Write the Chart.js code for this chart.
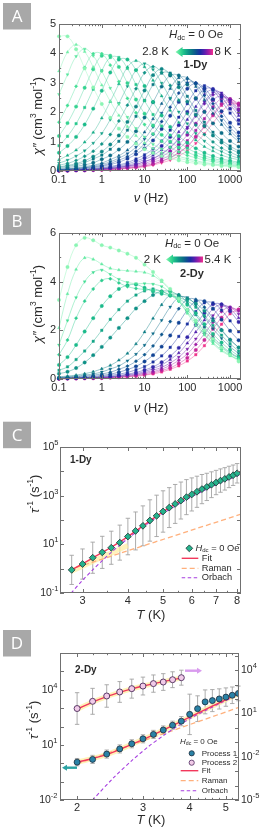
<!DOCTYPE html>
<html lang="en">
<head>
<meta charset="UTF-8">
<title>AC susceptibility and relaxation rates</title>
<script src="https://cdn.jsdelivr.net/npm/chart.js@4.4.0/dist/chart.umd.min.js"></script>
<style>
  html, body { margin: 0; padding: 0; background: #fff; }
  #wrap { position: relative; width: 264px; height: 838px; overflow: hidden; }
  canvas { position: absolute; left: 0; }
</style>
</head>
<body>
<div id="wrap">
  <canvas id="chartA" width="264" height="210" style="top:0px"></canvas>
  <canvas id="chartB" width="264" height="210" style="top:205px"></canvas>
  <canvas id="chartC" width="264" height="210" style="top:415px"></canvas>
  <canvas id="chartD" width="264" height="218" style="top:620px"></canvas>
</div>
<script>
// ---------- data ----------
// panels A and B: chi'' (cm3/mol) at each AC frequency, one row per temperature
const freqHz = [0.1, 0.158, 0.251, 0.398, 0.631, 1, 1.58, 2.51, 3.98, 6.31, 10, 15.8, 25.1, 39.8, 63.1, 100, 158, 251, 398, 631, 1000, 1585];

const tempA = [2.8, 3.0, 3.2, 3.4, 3.6, 3.8, 4.0, 4.2, 4.4, 4.6, 4.8, 5.0, 5.2, 5.4, 5.6, 5.8, 6.0, 6.2, 6.4, 6.6, 6.8, 7.0, 7.2, 7.4, 7.6, 7.8, 8.0];
const chiA = [
  [4.58,4.58,4.14,3.49,2.84,2.28,1.81,1.44,1.16,0.93,0.74,0.61,0.51,0.43,0.36,0.30,0.26,0.22,0.20,0.17,0.15,0.13],
  [3.40,4.04,4.30,4.06,3.53,2.92,2.37,1.89,1.51,1.20,0.95,0.77,0.62,0.52,0.43,0.37,0.30,0.26,0.22,0.19,0.17,0.15],
  [2.61,3.28,3.90,4.15,3.92,3.40,2.82,2.28,1.83,1.45,1.16,0.91,0.75,0.60,0.50,0.42,0.35,0.29,0.25,0.21,0.19,0.17],
  [1.66,2.23,2.88,3.52,3.99,3.99,3.60,3.04,2.47,1.98,1.58,1.26,1.01,0.81,0.65,0.53,0.45,0.37,0.32,0.26,0.22,0.19],
  [1.19,1.63,2.19,2.83,3.46,3.92,3.92,3.54,2.99,2.43,1.95,1.55,1.23,1.00,0.80,0.64,0.53,0.44,0.37,0.31,0.26,0.22],
  [0.86,1.18,1.61,2.16,2.78,3.41,3.86,3.86,3.49,2.94,2.39,1.92,1.53,1.22,0.98,0.78,0.63,0.52,0.43,0.36,0.31,0.25],
  [0.62,0.85,1.16,1.58,2.12,2.73,3.35,3.79,3.79,3.43,2.89,2.35,1.89,1.50,1.19,0.96,0.77,0.62,0.51,0.42,0.35,0.30],
  [0.38,0.53,0.71,0.98,1.31,1.80,2.36,2.96,3.53,3.75,3.54,3.08,2.55,2.06,1.65,1.31,1.05,0.83,0.68,0.54,0.45,0.38],
  [0.27,0.37,0.51,0.69,0.95,1.28,1.75,2.30,2.88,3.43,3.65,3.45,2.99,2.48,2.01,1.61,1.28,1.02,0.80,0.66,0.53,0.44],
  [0.20,0.26,0.36,0.50,0.67,0.92,1.24,1.70,2.24,2.80,3.34,3.55,3.35,2.91,2.41,1.95,1.56,1.24,0.99,0.78,0.64,0.51],
  [0.14,0.19,0.25,0.35,0.49,0.66,0.90,1.21,1.67,2.19,2.74,3.26,3.47,3.28,2.85,2.36,1.91,1.53,1.21,0.97,0.76,0.62],
  [0.12,0.16,0.21,0.29,0.41,0.54,0.74,1.01,1.39,1.86,2.40,2.94,3.33,3.33,3.01,2.54,2.06,1.66,1.32,1.05,0.85,0.68],
  [0.09,0.12,0.16,0.21,0.28,0.40,0.53,0.73,0.99,1.35,1.82,2.34,2.87,3.25,3.25,2.94,2.48,2.01,1.62,1.29,1.02,0.83],
  [0.06,0.08,0.11,0.15,0.20,0.27,0.39,0.52,0.71,0.97,1.32,1.77,2.29,2.80,3.17,3.17,2.87,2.42,1.96,1.58,1.26,1.00],
  [0.05,0.07,0.09,0.12,0.17,0.23,0.31,0.44,0.59,0.81,1.09,1.50,1.97,2.46,2.93,3.12,2.95,2.56,2.12,1.72,1.37,1.09],
  [0.05,0.06,0.08,0.11,0.14,0.19,0.26,0.37,0.49,0.67,0.92,1.25,1.68,2.17,2.65,3.00,3.00,2.71,2.29,1.86,1.49,1.19],
  [0.04,0.05,0.07,0.09,0.12,0.16,0.22,0.30,0.42,0.57,0.77,1.04,1.43,1.88,2.35,2.80,2.98,2.82,2.44,2.03,1.64,1.31],
  [0.03,0.04,0.05,0.06,0.09,0.12,0.16,0.21,0.29,0.41,0.55,0.75,1.02,1.39,1.83,2.29,2.73,2.90,2.74,2.38,1.97,1.60],
  [0.03,0.03,0.04,0.05,0.07,0.10,0.13,0.18,0.24,0.34,0.45,0.62,0.85,1.16,1.56,2.01,2.46,2.79,2.79,2.52,2.12,1.73],
  [0.02,0.03,0.04,0.05,0.06,0.08,0.11,0.15,0.20,0.28,0.39,0.53,0.72,0.97,1.33,1.75,2.19,2.60,2.77,2.62,2.27,1.88],
  [0.02,0.02,0.03,0.04,0.05,0.07,0.09,0.13,0.17,0.23,0.32,0.43,0.59,0.81,1.11,1.49,1.92,2.35,2.66,2.66,2.40,2.03],
  [0.02,0.02,0.03,0.04,0.05,0.07,0.09,0.12,0.17,0.22,0.32,0.42,0.58,0.79,1.08,1.45,1.87,2.29,2.59,2.59,2.34,1.97],
  [0.02,0.02,0.03,0.03,0.04,0.06,0.08,0.10,0.14,0.19,0.26,0.36,0.49,0.67,0.90,1.23,1.61,2.02,2.41,2.56,2.42,2.10],
  [0.01,0.02,0.02,0.03,0.04,0.05,0.07,0.09,0.12,0.16,0.21,0.30,0.40,0.55,0.75,1.03,1.38,1.78,2.18,2.46,2.46,2.23],
  [0.01,0.01,0.02,0.02,0.03,0.04,0.05,0.07,0.10,0.13,0.18,0.24,0.34,0.46,0.63,0.85,1.17,1.53,1.92,2.28,2.43,2.30],
  [0.01,0.01,0.02,0.02,0.03,0.04,0.05,0.07,0.10,0.13,0.17,0.23,0.33,0.45,0.62,0.83,1.14,1.49,1.87,2.22,2.37,2.24],
  [0.01,0.01,0.02,0.02,0.03,0.03,0.04,0.06,0.08,0.11,0.14,0.20,0.28,0.37,0.51,0.69,0.94,1.27,1.63,2.00,2.27,2.27]
];

const tempB = [2.0, 2.2, 2.4, 2.6, 2.8, 3.0, 3.2, 3.4, 3.6, 3.8, 4.0, 4.2, 4.4, 4.6, 4.8, 5.0, 5.2, 5.4];
const chiB = [
  [3.25,4.60,5.50,5.80,5.70,5.50,5.40,5.28,5.15,4.98,4.70,4.40,4.05,3.70,3.30,2.85,2.40,2.00,1.65,1.30,1.00,0.72],
  [2.10,3.50,4.50,4.98,4.92,4.72,4.55,4.48,4.45,4.42,4.38,4.25,4.00,3.65,3.20,2.70,2.20,1.80,1.45,1.15,0.95,0.78],
  [1.40,2.40,3.35,4.00,4.38,4.48,4.30,4.10,3.97,3.92,3.92,3.90,3.80,3.55,3.20,2.75,2.30,1.85,1.50,1.20,0.98,0.80],
  [1.00,1.60,2.50,3.20,3.70,4.05,4.12,3.95,3.80,3.72,3.68,3.65,3.60,3.45,3.20,2.85,2.40,1.95,1.60,1.30,1.05,0.85],
  [0.58,0.90,1.40,1.95,2.50,3.00,3.40,3.70,3.85,3.88,3.75,3.60,3.50,3.42,3.30,3.05,2.70,2.25,1.85,1.50,1.20,0.95],
  [0.36,0.50,0.80,1.15,1.55,2.00,2.45,2.85,3.20,3.45,3.62,3.70,3.60,3.45,3.35,3.20,2.95,2.60,2.20,1.80,1.45,1.15],
  [0.22,0.30,0.45,0.68,0.98,1.32,1.70,2.10,2.50,2.90,3.20,3.45,3.60,3.60,3.45,3.30,3.10,2.80,2.40,2.00,1.60,1.30],
  [0.09,0.12,0.16,0.22,0.30,0.42,0.56,0.77,1.05,1.44,1.93,2.49,3.05,3.45,3.45,3.12,2.63,2.14,1.72,1.37,1.09,0.88],
  [0.06,0.09,0.12,0.16,0.21,0.29,0.41,0.54,0.75,1.02,1.39,1.87,2.41,2.96,3.35,3.35,3.03,2.55,2.07,1.67,1.33,1.05],
  [0.05,0.06,0.09,0.12,0.16,0.21,0.28,0.40,0.53,0.73,1.00,1.36,1.83,2.36,2.89,3.27,3.27,2.95,2.49,2.03,1.63,1.29],
  [0.04,0.05,0.06,0.08,0.11,0.15,0.20,0.28,0.39,0.52,0.72,0.98,1.33,1.79,2.31,2.83,3.20,3.20,2.89,2.44,1.98,1.59],
  [0.03,0.04,0.05,0.06,0.08,0.11,0.15,0.20,0.27,0.38,0.51,0.70,0.95,1.30,1.75,2.26,2.77,3.13,3.13,2.83,2.39,1.94],
  [0.02,0.03,0.04,0.05,0.06,0.08,0.11,0.15,0.20,0.27,0.37,0.50,0.69,0.94,1.28,1.72,2.22,2.71,3.07,3.07,2.78,2.34],
  [0.02,0.02,0.03,0.04,0.05,0.07,0.09,0.12,0.17,0.22,0.31,0.43,0.58,0.80,1.07,1.47,1.93,2.42,2.88,3.06,2.89,2.51],
  [0.02,0.02,0.03,0.04,0.05,0.06,0.08,0.11,0.14,0.19,0.26,0.36,0.48,0.66,0.90,1.23,1.65,2.13,2.61,2.96,2.96,2.67],
  [0.01,0.02,0.02,0.03,0.04,0.05,0.06,0.09,0.12,0.16,0.22,0.30,0.41,0.56,0.77,1.03,1.42,1.86,2.33,2.77,2.95,2.79],
  [0.01,0.02,0.02,0.03,0.03,0.04,0.06,0.08,0.10,0.14,0.18,0.25,0.35,0.46,0.64,0.87,1.19,1.60,2.06,2.52,2.86,2.86],
  [0.01,0.01,0.02,0.02,0.03,0.04,0.05,0.06,0.09,0.11,0.16,0.21,0.29,0.40,0.54,0.74,1.00,1.37,1.80,2.25,2.68,2.85]
];

// panel C: 1-Dy relaxation rate, log10(tau^-1 / s^-1)
const tempC = [2.8, 3.0, 3.2, 3.4, 3.6, 3.8, 4.0, 4.2, 4.4, 4.6, 4.8, 5.0, 5.2, 5.4, 5.6, 5.8, 6.0, 6.2, 6.4, 6.6, 6.8, 7.0, 7.2, 7.4, 7.6, 7.8, 8.0];
const logRateC = [-0.05, 0.19, 0.45, 0.67, 0.86, 1.07, 1.32, 1.55, 1.76, 1.98, 2.17, 2.35, 2.51, 2.66, 2.80, 2.94, 3.05, 3.16, 3.27, 3.36, 3.45, 3.54, 3.62, 3.69, 3.77, 3.84, 3.92];
const logErrC = [0.60, 0.62, 0.64, 0.66, 0.68, 0.72, 0.75, 0.78, 0.82, 0.85, 0.85, 0.85, 0.82, 0.80, 0.76, 0.72, 0.68, 0.64, 0.60, 0.56, 0.53, 0.50, 0.48, 0.46, 0.44, 0.42, 0.40];
const fitCT = [2.78, 3.0, 3.2, 3.4, 3.6, 3.8, 4.0, 4.2, 4.4, 4.6, 4.8, 5.0, 5.4, 5.8, 6.2, 6.6, 7.0, 7.5, 8.05];
const fitCLog = [-0.07, 0.20, 0.44, 0.67, 0.88, 1.10, 1.32, 1.54, 1.76, 1.97, 2.16, 2.34, 2.66, 2.93, 3.16, 3.36, 3.54, 3.73, 3.94];
const ramanCT = [2.75, 8.2];
const ramanCLog = [-0.05, 2.24];
const orbachCT = [2.79, 3.0, 3.2, 3.4, 3.6, 3.8, 4.0, 4.4, 4.8, 5.2, 5.6, 6.0, 6.5, 7.0, 7.5, 8.0, 8.2];
const orbachCLog = [-1.0, -0.48, -0.05, 0.33, 0.67, 0.97, 1.24, 1.71, 2.10, 2.43, 2.71, 2.96, 3.22, 3.45, 3.64, 3.81, 3.88];
// faint band under the low-temperature part of the fit
const bandCT = [2.78, 3.0, 3.2, 3.4, 3.6, 3.8, 4.0];
const bandCLog = [-0.12, 0.1, 0.3, 0.48, 0.64, 0.8, 0.95];

// panel D: 2-Dy, process 1 (left axis) and process 2 (right axis)
const tempD1 = [2.0, 2.2, 2.4, 2.6, 2.8, 3.0, 3.2, 3.4, 3.6, 3.8, 4.0, 4.2, 4.4, 4.6, 4.8, 5.0, 5.2, 5.4];
const logRateD1 = [0.06, 0.21, 0.50, 0.78, 1.06, 1.33, 1.57, 1.81, 2.07, 2.29, 2.66, 2.97, 3.34, 3.41, 3.50, 3.60, 3.70, 3.80];
const logErrD1 = [0.20, 0.22, 0.22, 0.22, 0.22, 0.22, 0.22, 0.22, 0.22, 0.25, 1.10, 0.70, 0.65, 0.60, 0.55, 0.50, 0.45, 0.40];
const tempD2 = [2.0, 2.2, 2.4, 2.6, 2.8, 3.0, 3.2, 3.4, 3.6, 3.8];
const logRateD2 = [1.35, 1.85, 2.22, 2.50, 2.73, 2.91, 3.08, 3.19, 3.35, 3.49];
const logErrD2 = [1.10, 0.90, 0.78, 0.72, 0.66, 0.62, 0.60, 0.58, 0.55, 0.52];
const fitD1T = [2.0, 2.4, 2.8, 3.2, 3.6, 4.0, 4.4, 4.8, 5.42];
const fitD1Log = [0.05, 0.47, 1.03, 1.55, 2.05, 2.51, 2.92, 3.29, 3.80];
const fitD2T = [2.0, 2.2, 2.4, 2.6, 2.8, 3.0, 3.2, 3.4, 3.6, 3.8];
const fitD2Log = [1.30, 1.80, 2.18, 2.47, 2.71, 2.91, 3.08, 3.22, 3.35, 3.47];
const ramanDT = [2.0, 5.42];
const ramanDLog = [-0.03, 3.04];
const orbachDT = [2.2, 2.5, 2.8, 3.1, 3.4, 3.7, 4.0, 4.4, 4.8, 5.42];
const orbachDLog = [-2.0, -0.8, 0.14, 0.9, 1.5, 2.0, 2.42, 2.86, 3.24, 3.75];

// tick labels
const ticksAX = [0.1, 1, 10, 100, 1000];
const ticksAY = [0, 1, 2, 3, 4, 5];
const ticksBY = [0, 2, 4, 6];
const ticksCX = [3, 4, 5, 6, 7, 8];
const expCY = [-1, 1, 3, 5];
const ticksDX = [2, 3, 4, 5];
const expDY = [-2, 1, 4];
const expDY2 = [-5, -2, 1, 4];

// ---------- helpers ----------
const FONT = "'Liberation Sans', Arial, sans-serif";
const INK = '#2b2b2b';
const FRAME = '#707070';
const RAMP = ['#8af5b4', '#45e095', '#1cbf8a', '#0f9786', '#0c7385', '#0d4f91', '#1d2ba3', '#5a1fb0', '#a51ea5', '#f0328b'];
const MARKS = [['circle', 0], ['triangle', 0], ['triangle', 180], ['rectRot', 0], ['circle', 0], ['rect', 0]];

function hexRgb(h) { const n = parseInt(h.slice(1), 16); return [n >> 16 & 255, n >> 8 & 255, n & 255]; }
function ramp(f) {
  const s = f * (RAMP.length - 1);
  const i = Math.min(Math.floor(s), RAMP.length - 2);
  const u = s - i, a = hexRgb(RAMP[i]), b = hexRgb(RAMP[i + 1]);
  return a.map((v, j) => Math.round(v + (b[j] - v) * u));
}
const rgba = (c, a) => `rgba(${c[0]},${c[1]},${c[2]},${a})`;
const pts = (xs, logs) => xs.map((x, i) => ({ x: x, y: 10 ** logs[i] }));
const bars = (logs, errs) => logs.map((v, i) => [10 ** (v - errs[i]), 10 ** (v + errs[i])]);

function logMinor(lo, hi) {
  const out = [];
  for (let e = Math.floor(Math.log10(lo)); e <= Math.ceil(Math.log10(hi)); e++)
    for (let m = 2; m <= 9; m++) { const v = m * 10 ** e; if (v > lo && v < hi) out.push(v); }
  return out;
}
function steps(lo, hi, st) {
  const out = [];
  for (let v = lo; v <= hi + 1e-9; v += st) out.push(+v.toFixed(3));
  return out;
}

function rich(ctx, x, y, parts, align, color) {
  ctx.save();
  ctx.fillStyle = color || INK;
  ctx.textBaseline = 'middle';
  ctx.textAlign = 'left';
  const segs = parts.map(p => {
    const o = p[2] || {};
    const font = (o.italic ? 'italic ' : '') + (o.bold ? 'bold ' : '') + p[1] + 'px ' + FONT;
    ctx.font = font;
    return { t: p[0], font: font, w: ctx.measureText(p[0]).width, dy: o.dy || 0 };
  });
  const total = segs.reduce((s, g) => s + g.w, 0);
  let cx = align === 'center' ? x - total / 2 : align === 'right' ? x - total : x;
  segs.forEach(g => { ctx.font = g.font; ctx.fillText(g.t, cx, y + g.dy); cx += g.w; });
  ctx.restore();
}
function richV(ctx, x, y, parts) {
  ctx.save(); ctx.translate(x, y); ctx.rotate(-Math.PI / 2);
  rich(ctx, 0, 0, parts, 'center'); ctx.restore();
}
function pow10(ctx, x, y, e, align) {
  rich(ctx, x, y, [['10', 10.5], [String(e), 7.5, { dy: -4 }]], align);
}
function letterBox(ctx, ch, y) {
  ctx.save();
  ctx.fillStyle = '#a8a8a8';
  ctx.fillRect(3, y, 28, 26.5);
  ctx.fillStyle = '#fff';
  ctx.font = "17px 'Open Sans', sans-serif";
  ctx.textAlign = 'center'; ctx.textBaseline = 'middle';
  ctx.fillText(ch, 17, y + 14);
  ctx.restore();
}
function gradArrow(ctx, xHead, xEnd, y) {
  ctx.save();
  const g = ctx.createLinearGradient(xHead, 0, xEnd, 0);
  RAMP.forEach((c, i) => g.addColorStop(i / (RAMP.length - 1), c));
  ctx.fillStyle = g;
  ctx.beginPath();
  ctx.moveTo(xHead, y);
  ctx.lineTo(xHead + 7, y - 5);
  ctx.lineTo(xHead + 7, y - 3);
  ctx.lineTo(xEnd, y - 3);
  ctx.lineTo(xEnd, y + 3);
  ctx.lineTo(xHead + 7, y + 3);
  ctx.lineTo(xHead + 7, y + 5);
  ctx.closePath();
  ctx.fill();
  ctx.restore();
}
function smallArrow(ctx, xTail, xTip, y, color) {
  const dir = xTip > xTail ? 1 : -1;
  ctx.save();
  ctx.fillStyle = color;
  ctx.fillRect(Math.min(xTail, xTip - dir * 5), y - 1.2, Math.abs(xTip - dir * 5 - xTail), 2.4);
  ctx.beginPath();
  ctx.moveTo(xTip, y);
  ctx.lineTo(xTip - dir * 5, y - 3);
  ctx.lineTo(xTip - dir * 5, y + 3);
  ctx.closePath();
  ctx.fill();
  ctx.restore();
}
function legendLine(ctx, x0, x1, y, color, dash, w) {
  ctx.save();
  ctx.strokeStyle = color; ctx.lineWidth = w; ctx.setLineDash(dash);
  ctx.beginPath(); ctx.moveTo(x0, y); ctx.lineTo(x1, y); ctx.stroke();
  ctx.restore();
}
const hdc = (size) => [['H', size, { italic: true }], ['dc', size * 0.65, { dy: size * 0.25 }], [' = 0 Oe', size]];

// box frame with inward ticks and hand-placed tick labels
function framePlugin(axes) {
  return {
    id: 'frame',
    afterDatasetsDraw(chart) {
      const ctx = chart.ctx, a = chart.chartArea;
      ctx.save();
      ctx.strokeStyle = FRAME; ctx.lineWidth = 1;
      ctx.strokeRect(a.left + 0.5, a.top + 0.5, a.right - a.left - 1, a.bottom - a.top - 1);
      axes.forEach(ax => {
        const sc = chart.scales[ax.id];
        const tick = (v, len) => {
          const p = Math.round(sc.getPixelForValue(v)) + 0.5;
          ctx.beginPath();
          ax.sides.forEach(s => {
            if (s === 'bottom') { ctx.moveTo(p, a.bottom); ctx.lineTo(p, a.bottom - len); }
            else if (s === 'top') { ctx.moveTo(p, a.top); ctx.lineTo(p, a.top + len); }
            else if (s === 'left') { ctx.moveTo(a.left, p); ctx.lineTo(a.left + len, p); }
            else { ctx.moveTo(a.right, p); ctx.lineTo(a.right - len, p); }
          });
          ctx.stroke();
        };
        ax.major.forEach(v => tick(v, 4));
        (ax.minor || []).forEach(v => tick(v, 2.2));
        (ax.labels || []).forEach(([v, t]) => {
          const p = sc.getPixelForValue(v);
          if (ax.labelSide === 'bottom') {
            if (ax.pow) pow10(ctx, p, a.bottom + ax.gap, t, 'center');
            else rich(ctx, p, a.bottom + ax.gap, [[t, 11]], 'center');
          } else if (ax.labelSide === 'left') {
            if (ax.pow) pow10(ctx, a.left - ax.gap, p, t, 'right');
            else rich(ctx, a.left - ax.gap, p, [[t, 11]], 'right');
          } else {
            pow10(ctx, a.right + ax.gap, p, t, 'left');
          }
        });
      });
      ctx.restore();
    }
  };
}

const errorBarPlugin = {
  id: 'errorBars',
  beforeDatasetsDraw(chart) {
    const ctx = chart.ctx;
    chart.data.datasets.forEach((ds, i) => {
      if (!ds.errorBars) return;
      const meta = chart.getDatasetMeta(i);
      const ys = chart.scales[meta.yAxisID];
      ctx.save();
      ctx.strokeStyle = '#a3a3a3'; ctx.lineWidth = 0.9;
      ds.errorBars.forEach(([lo, hi], j) => {
        const x = meta.data[j].x;
        const y1 = ys.getPixelForValue(lo), y2 = ys.getPixelForValue(hi);
        ctx.beginPath();
        ctx.moveTo(x, y1); ctx.lineTo(x, y2);
        ctx.moveTo(x - 2.2, y1); ctx.lineTo(x + 2.2, y1);
        ctx.moveTo(x - 2.2, y2); ctx.lineTo(x + 2.2, y2);
        ctx.stroke();
      });
      ctx.restore();
    });
  }
};

function makeChart(id, datasets, scales, pad, plugins) {
  return new Chart(document.getElementById(id), {
    type: 'scatter',
    data: { datasets: datasets },
    options: {
      responsive: false, animation: false, devicePixelRatio: 1, events: [],
      layout: { padding: pad },
      plugins: { legend: { display: false }, tooltip: { enabled: false } },
      scales: scales
    },
    plugins: plugins
  });
}

function chiSets(temps, rows, lineAlpha) {
  return temps.map((t, k) => {
    const c = ramp(k / (temps.length - 1));
    const m = MARKS[k % MARKS.length];
    return {
      label: t + ' K',
      data: freqHz.map((f, i) => ({ x: f, y: rows[k][i] })),
      showLine: true, tension: 0.4, clip: false,
      borderColor: rgba(c, lineAlpha), borderWidth: 0.9,
      pointStyle: m[0], pointRotation: m[1], pointRadius: 1.7,
      pointBackgroundColor: rgba(c, 1), pointBorderColor: rgba(c, 1), pointBorderWidth: 0.4
    };
  });
}
function lineSet(data, color, width, dash, order, axis) {
  return { data: data, showLine: true, borderColor: color, borderWidth: width, borderDash: dash || [],
           pointRadius: 0, tension: 0.3, order: order, yAxisID: axis || 'y' };
}

const chiTitle = [['\u03c7\u2033', 13, { italic: true }], [' (cm', 13], ['3', 8.5, { dy: -4.5 }], [' mol', 13], ['-1', 8.5, { dy: -4.5 }], [')', 13]];
const rateTitle = [['\u03c4', 13, { italic: true }], ['-1', 8.5, { dy: -4.5 }], [' (s', 13], ['-1', 8.5, { dy: -4.5 }], [')', 13]];

// ---------- panel A ----------
makeChart('chartA', chiSets(tempA, chiA, 0.42), {
  x: { type: 'logarithmic', min: 0.1, max: 1800, display: false },
  y: { type: 'linear', min: 0, max: 5, display: false }
}, { left: 59, right: 23, top: 24, bottom: 39 }, [
  framePlugin([
    { id: 'x', sides: ['bottom', 'top'], major: ticksAX, minor: logMinor(0.1, 1800),
      labels: ticksAX.map(v => [v, String(v)]), labelSide: 'bottom', gap: 9 },
    { id: 'y', sides: ['left', 'right'], major: ticksAY, minor: steps(0.5, 4.5, 1),
      labels: ticksAY.map(v => [v, String(v)]), labelSide: 'left', gap: 3 }
  ]),
  { id: 'notesA', afterDraw(chart) {
      const ctx = chart.ctx;
      letterBox(ctx, 'A', 3);
      richV(ctx, 38, 116, chiTitle);
      rich(ctx, 151, 198, [['\u03bd', 13, { italic: true }], [' (Hz)', 13]], 'center');
      rich(ctx, 196, 35, hdc(11.5), 'center');
      rich(ctx, 169, 52, [['2.8 K', 11.5]], 'right');
      gradArrow(ctx, 175.5, 213, 52);
      rich(ctx, 214.5, 52, [['8 K', 11.5]], 'left');
      rich(ctx, 195.5, 64.5, [['1-Dy', 11, { bold: true }]], 'center');
  } }
]);

// ---------- panel B ----------
makeChart('chartB', chiSets(tempB, chiB, 0.48), {
  x: { type: 'logarithmic', min: 0.1, max: 1800, display: false },
  y: { type: 'linear', min: 0, max: 6, display: false }
}, { left: 59, right: 23, top: 28, bottom: 36 }, [
  framePlugin([
    { id: 'x', sides: ['bottom', 'top'], major: ticksAX, minor: logMinor(0.1, 1800),
      labels: ticksAX.map(v => [v, String(v)]), labelSide: 'bottom', gap: 9 },
    { id: 'y', sides: ['left', 'right'], major: ticksBY, minor: [1, 3, 5],
      labels: ticksBY.map(v => [v, String(v)]), labelSide: 'left', gap: 3 }
  ]),
  { id: 'notesB', afterDraw(chart) {
      const ctx = chart.ctx;
      letterBox(ctx, 'B', 3.3);
      richV(ctx, 38, 99, chiTitle);
      rich(ctx, 151, 203, [['\u03bd', 13, { italic: true }], [' (Hz)', 13]], 'center');
      rich(ctx, 192, 38.5, hdc(11.5), 'center');
      rich(ctx, 161, 54.5, [['2 K', 11.5]], 'right');
      gradArrow(ctx, 166, 203, 54.5);
      rich(ctx, 204.5, 54.5, [['5.4 K', 11.5]], 'left');
      rich(ctx, 192, 69, [['2-Dy', 11, { bold: true }]], 'center');
  } }
]);

// ---------- panel C ----------
makeChart('chartC', [
  { data: pts(tempC, logRateC), errorBars: bars(logRateC, logErrC), pointStyle: 'rectRot', pointRadius: 3.4,
    pointBackgroundColor: '#26b38d', pointBorderColor: '#1c3434', pointBorderWidth: 0.8, order: 0 },
  lineSet(pts(fitCT, fitCLog), '#f2385c', 1.4, [], 1),
  lineSet(pts(ramanCT, ramanCLog), '#ffb07c', 1.3, [5, 3], 3),
  lineSet(pts(orbachCT, orbachCLog), '#a63ee0', 1.1, [3.5, 2.5], 2),
  lineSet(pts(bandCT, bandCLog), 'rgba(255,238,160,0.7)', 5, [], 5)
], {
  x: { type: 'logarithmic', min: 2.6, max: 8.2, display: false },
  y: { type: 'logarithmic', min: 0.1, max: 1e5, display: false }
}, { left: 60, right: 23, top: 32, bottom: 32 }, [
  errorBarPlugin,
  framePlugin([
    { id: 'x', sides: ['bottom', 'top'], major: ticksCX, minor: steps(3.5, 7.5, 1),
      labels: ticksCX.map(v => [v, String(v)]), labelSide: 'bottom', gap: 7.5 },
    { id: 'y', sides: ['left', 'right'], major: steps(-1, 5, 1).map(e => 10 ** e),
      labels: expCY.map(e => [10 ** e, e]), pow: true, labelSide: 'left', gap: 1.5 }
  ]),
  { id: 'notesC', afterDraw(chart) {
      const ctx = chart.ctx;
      letterBox(ctx, 'C', 6.7);
      richV(ctx, 35, 79, rateTitle);
      rich(ctx, 151, 200, [['T', 13, { italic: true }], [' (K)', 13]], 'center');
      rich(ctx, 70, 45.7, [['1-Dy', 10, { bold: true }]], 'left');
      // legend
      ctx.save();
      ctx.fillStyle = '#26b38d'; ctx.strokeStyle = '#1c3434'; ctx.lineWidth = 0.8;
      ctx.beginPath();
      ctx.moveTo(189.3, 129.9); ctx.lineTo(192.7, 133.3); ctx.lineTo(189.3, 136.7); ctx.lineTo(185.9, 133.3);
      ctx.closePath(); ctx.fill(); ctx.stroke();
      ctx.restore();
      rich(ctx, 195.5, 133.3, hdc(9.3), 'left');
      legendLine(ctx, 181.7, 198.3, 143.3, '#f2385c', [], 1.4);
      rich(ctx, 201.7, 143.3, [['Fit', 9.3]], 'left');
      legendLine(ctx, 181.7, 198.3, 153.3, '#ffb07c', [5, 3], 1.3);
      rich(ctx, 201.7, 153.3, [['Raman', 9.3]], 'left');
      legendLine(ctx, 181.7, 198.3, 162.7, '#a63ee0', [3.5, 2.5], 1.1);
      rich(ctx, 201.7, 162.7, [['Orbach', 9.3]], 'left');
  } }
]);

// ---------- panel D ----------
makeChart('chartD', [
  { data: pts(tempD1, logRateD1), errorBars: bars(logRateD1, logErrD1), pointStyle: 'circle', pointRadius: 3,
    pointBackgroundColor: '#2a82a6', pointBorderColor: '#1b2b3b', pointBorderWidth: 0.8, order: 0, yAxisID: 'y' },
  { data: pts(tempD2, logRateD2), errorBars: bars(logRateD2, logErrD2), pointStyle: 'circle', pointRadius: 3,
    pointBackgroundColor: '#f1cbe8', pointBorderColor: '#4c2a5e', pointBorderWidth: 0.9, order: 0, yAxisID: 'y2' },
  lineSet(pts(fitD1T, fitD1Log), '#f2385c', 1.4, [], 1, 'y'),
  lineSet(pts(fitD2T, fitD2Log), '#f2385c', 1.4, [], 1, 'y2'),
  lineSet(pts(fitD1T, fitD1Log), 'rgba(255,238,160,0.75)', 5, [], 4, 'y'),
  lineSet(pts(fitD2T, fitD2Log), 'rgba(255,238,160,0.75)', 5, [], 4, 'y2'),
  lineSet(pts(ramanDT, ramanDLog), '#ffb07c', 1.3, [5, 3], 3, 'y'),
  lineSet(pts(orbachDT, orbachDLog), '#a63ee0', 1.1, [3.5, 2.5], 2, 'y')
], {
  x: { type: 'logarithmic', min: 1.8, max: 5.42, display: false },
  y: { type: 'logarithmic', min: 1e-2, max: 1e6, display: false },
  y2: { type: 'logarithmic', position: 'right', min: 1e-5, max: 1.6e5, display: false }
}, { left: 60, right: 25, top: 33, bottom: 38 }, [
  errorBarPlugin,
  framePlugin([
    { id: 'x', sides: ['bottom', 'top'], major: ticksDX, minor: steps(1.8, 5.4, 0.2).filter(v => !ticksDX.includes(v)),
      labels: ticksDX.map(v => [v, String(v)]), labelSide: 'bottom', gap: 8 },
    { id: 'y', sides: ['left'], major: steps(-2, 6, 1).map(e => 10 ** e),
      labels: expDY.map(e => [10 ** e, e]), pow: true, labelSide: 'left', gap: 2.5 },
    { id: 'y2', sides: ['right'], major: steps(-5, 5, 1).map(e => 10 ** e),
      labels: expDY2.map(e => [10 ** e, e]), pow: true, labelSide: 'right', gap: 2 }
  ]),
  { id: 'notesD', afterDraw(chart) {
      const ctx = chart.ctx;
      letterBox(ctx, 'D', 10);
      richV(ctx, 34.5, 100, rateTitle);
      rich(ctx, 151, 200, [['T', 13, { italic: true }], [' (K)', 13]], 'center');
      rich(ctx, 75, 50, [['2-Dy', 10, { bold: true }]], 'left');
      smallArrow(ctx, 185, 202, 50.7, '#d99bee');
      smallArrow(ctx, 77, 62, 147.7, '#2aa3a3');
      // legend
      rich(ctx, 180, 121.7, hdc(8), 'left');
      ctx.save();
      ctx.lineWidth = 0.8;
      ctx.fillStyle = '#2a82a6'; ctx.strokeStyle = '#1b2b3b';
      ctx.beginPath(); ctx.arc(191.7, 133.3, 2.6, 0, Math.PI * 2); ctx.fill(); ctx.stroke();
      ctx.fillStyle = '#f1cbe8'; ctx.strokeStyle = '#4c2a5e';
      ctx.beginPath(); ctx.arc(191.7, 142.7, 2.6, 0, Math.PI * 2); ctx.fill(); ctx.stroke();
      ctx.restore();
      rich(ctx, 201.7, 133.3, [['Process 1', 8]], 'left');
      rich(ctx, 201.7, 142.7, [['Process 2', 8]], 'left');
      legendLine(ctx, 180.7, 198.3, 150.7, '#f2385c', [], 1.4);
      rich(ctx, 201.7, 150.7, [['Fit', 8]], 'left');
      legendLine(ctx, 180.7, 198.3, 160.7, '#ffb07c', [5, 3], 1.3);
      rich(ctx, 201.7, 160.7, [['Raman', 8]], 'left');
      legendLine(ctx, 180.7, 198.3, 170.7, '#a63ee0', [3.5, 2.5], 1.1);
      rich(ctx, 201.7, 170.7, [['Orbach', 8]], 'left');
  } }
]);
</script>
</body>
</html>
